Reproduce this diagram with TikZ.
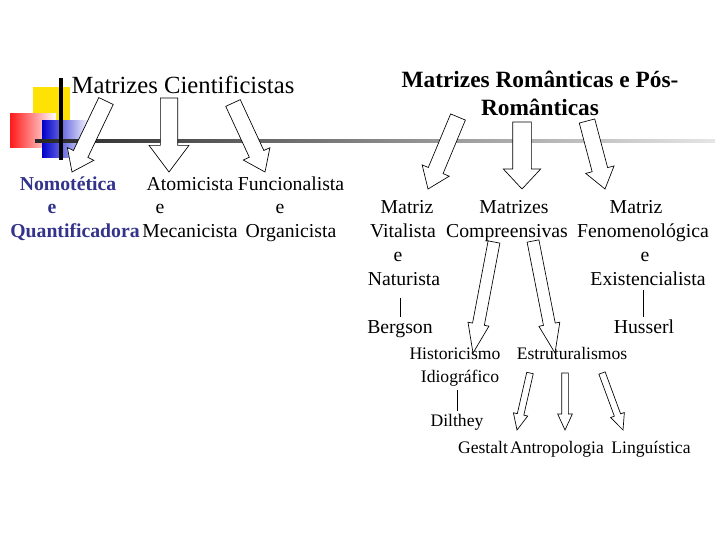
\documentclass[tikz,border=0pt]{standalone}
\usepackage{fontspec}
\setmainfont{Liberation Serif}
\usetikzlibrary{calc}
\definecolor{navyt}{RGB}{51,51,140}
\newcommand{\barrow}[5]{% A B halfshaft halfhead headlen
  \coordinate (#1n) at ($(#2)!#5!(#1)$);
  \draw[black,fill=white,line width=0.5pt] ($(#1)!#3!90:(#2)$) -- ($(#1n)!#3!90:(#2)$) -- ($(#1n)!#4!90:(#2)$) -- (#2) -- ($(#1n)!#4!-90:(#2)$) -- ($(#1n)!#3!-90:(#2)$) -- ($(#1)!#3!-90:(#2)$) -- cycle;}
\begin{document}
\begin{tikzpicture}[x=0.75pt,y=-0.75pt,
  tx/.style={inner sep=0pt,anchor=base,font=\fontsize{14.8}{16}\selectfont},
  sm/.style={inner sep=0pt,anchor=base,font=\fontsize{13.2}{15}\selectfont},
  ttl/.style={inner sep=0pt,anchor=base,font=\fontsize{18.5}{20}\selectfont},
  ttb/.style={inner sep=0pt,anchor=base,font=\fontsize{17.5}{20}\selectfont\bfseries},
  bl/.style={inner sep=0pt,anchor=base,font=\fontsize{14.8}{16}\selectfont\bfseries,text=navyt}]
\useasboundingbox (0,0) rectangle (720,540);
% decoration
\fill[yellow!85!orange] (33,87) rectangle (70,124);
\shade[left color=red!90, right color=white] (10,113) rectangle (56,147);
\shade[left color=blue!80!black, right color=white] (42,120) rectangle (90,157);
\shade[left color=black!85, right color=black!10] (35,139.5) rectangle (715,142.5);
\draw[line width=2.5pt] (61,78) -- (61,160);
% titles
\node[ttl] (t1) at (183,93) {Matrizes Cientificistas};
\node[ttb] (t2) at (540,87) {Matrizes Românticas e Pós-};
\node[ttb] (t3) at (540,115) {Românticas};
% left texts
\node[bl] (n1) at (68,190) {Nomotética};
\node[bl] (n2) at (52,213) {e};
\node[bl] (n3) at (75,237) {Quantificadora};
\node[tx] (a1) at (190,190) {Atomicista};
\node[tx] (a2) at (160,213) {e};
\node[tx] (a3) at (190,237) {Mecanicista};
\node[tx] (f1) at (291,190) {Funcionalista};
\node[tx] (f2) at (280,213) {e};
\node[tx] (f3) at (291,237) {Organicista};
% right texts
\node[tx] (v1) at (407,213) {Matriz};
\node[tx] (v2) at (403,237) {Vitalista};
\node[tx] (v3) at (398,261) {e};
\node[tx] (v4) at (404,285) {Naturista};
\node[tx] (c1) at (514,213) {Matrizes};
\node[tx] (c2) at (507,237) {Compreensivas};
\node[tx] (p1) at (636,213) {Matriz};
\node[tx] (p2) at (643,237) {Fenomenológica};
\node[tx] (p3) at (645,261) {e};
\node[tx] (p4) at (648,285) {Existencialista};
\node[tx] (bg) at (400,333) {Bergson};
\node[tx] (hu) at (644,333) {Husserl};
\node[sm] (hi1) at (455,359) {Historicismo};
\node[sm] (hi2) at (460,382) {Idiográfico};
\node[sm] (es) at (572,359) {Estruturalismos};
\node[sm] (di) at (457,426) {Dilthey};
\node[sm] (ge) at (483,453) {Gestalt};
\node[sm] (an) at (557,453) {Antropologia};
\node[sm] (li) at (651,453) {Linguística};
% lines
\coordinate (l1a) at (400,298); \coordinate (l1b) at (400,317);
\draw (l1a) -- (l1b);
\coordinate (l2a) at (643,290); \coordinate (l2b) at (643,317);
\draw (l2a) -- (l2b);
\coordinate (l3a) at (457,390); \coordinate (l3b) at (457,411);
\draw (l3a) -- (l3b);
% block arrows
\coordinate (A1) at (106,101); \coordinate (B1) at (72,172);
\barrow{A1}{B1}{6pt}{11pt}{15pt}
\coordinate (A2) at (169,98); \coordinate (B2) at (169,172);
\barrow{A2}{B2}{6.5pt}{15pt}{20pt}
\coordinate (A3) at (233,103); \coordinate (B3) at (265,172);
\barrow{A3}{B3}{6pt}{11pt}{15pt}
\coordinate (A4) at (458,117); \coordinate (B4) at (428,189);
\barrow{A4}{B4}{6pt}{11pt}{15pt}
\coordinate (A5) at (522,122); \coordinate (B5) at (522,189);
\barrow{A5}{B5}{7pt}{14pt}{15pt}
\coordinate (A6) at (587,121); \coordinate (B6) at (605,189);
\barrow{A6}{B6}{6pt}{11pt}{15pt}
\coordinate (A7) at (494,242); \coordinate (B7) at (473,353);
\barrow{A7}{B7}{4.5pt}{8pt}{22pt}
\coordinate (A8) at (533,241); \coordinate (B8) at (555,353);
\barrow{A8}{B8}{4.5pt}{8pt}{22pt}
\coordinate (A9) at (530,373); \coordinate (B9) at (517,430);
\barrow{A9}{B9}{2.5pt}{5.5pt}{12pt}
\coordinate (A10) at (565,373); \coordinate (B10) at (565,430);
\barrow{A10}{B10}{2.5pt}{5.5pt}{12pt}
\coordinate (A11) at (602,373); \coordinate (B11) at (623,430);
\barrow{A11}{B11}{2.5pt}{5.5pt}{12pt}
\end{tikzpicture}
\end{document}
